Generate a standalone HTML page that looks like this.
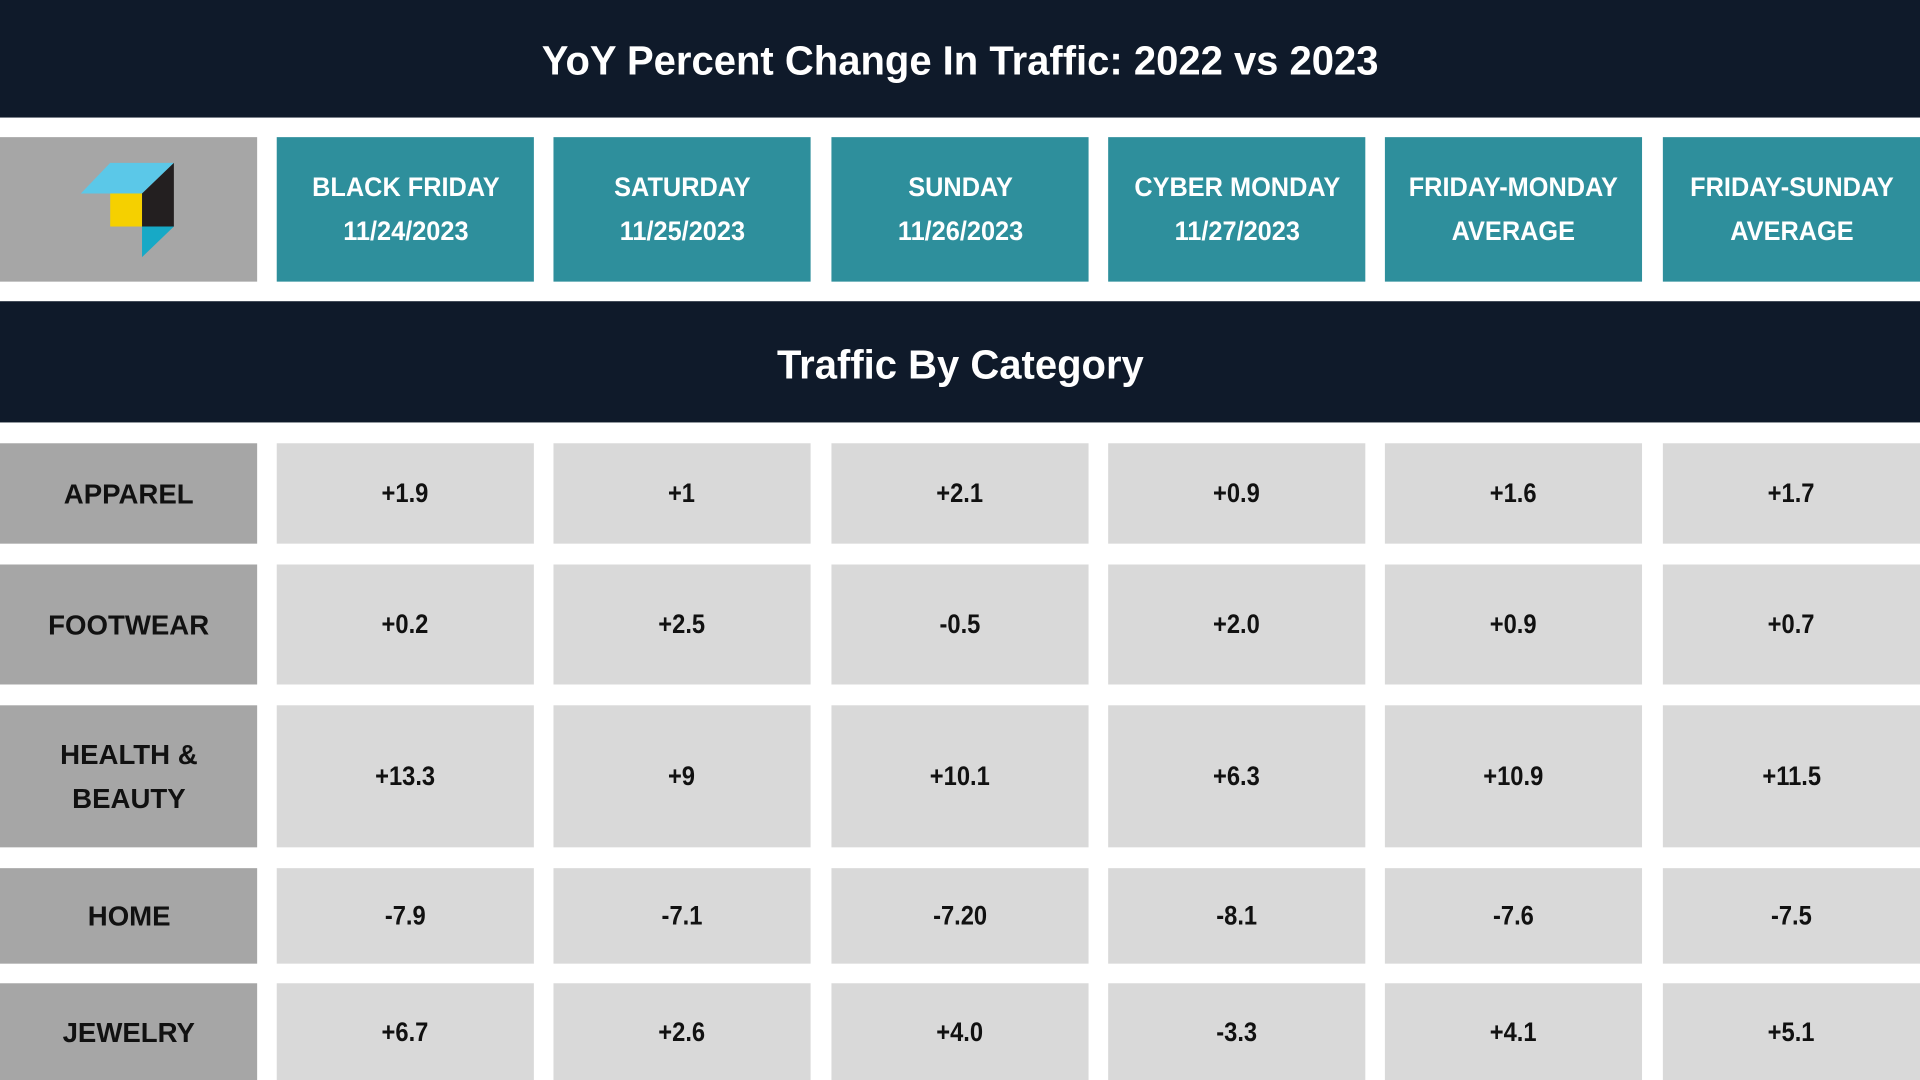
<!DOCTYPE html>
<html><head><meta charset="utf-8"><style>
*{margin:0;padding:0;box-sizing:border-box}
html,body{width:1920px;height:1080px;overflow:hidden;background:#fff}
#s{width:1568px;height:882px;position:relative;transform:scale(1.2244898);transform-origin:0 0;font-family:"Liberation Sans",sans-serif;font-weight:bold;color:#111}
.b{position:absolute;display:flex;align-items:center;justify-content:center;text-align:center}
.dark{background:#0f1a2a;color:#fff;left:0;width:1568px}
.h{background:#2e8f9c;color:#fff;font-size:22px;line-height:36px}
.l{background:#a6a6a6;font-size:23px;line-height:36px}
.d{background:#d9d9d9;font-size:22px}
span.n{display:inline-block;transform:scaleX(0.88)}
.h span.n{transform:scaleX(0.94)}
.l span.n{transform:scaleX(0.98)}
.dark span.n{transform:scaleX(0.99);position:relative;top:2px}
</style></head><body><div id="s">
<div class="b dark" style="top:0;height:96px;font-size:33px"><span class="n">YoY Percent Change In Traffic: 2022 vs 2023</span></div>
<div class="b" style="left:0;top:112px;width:210px;height:118px;background:#a6a6a6">
<svg width="210" height="118" viewBox="0 112 210 118" style="position:absolute;left:0;top:0">
<polygon points="66,158 90,133 142,133 116,158" fill="#5bc8e8"/>
<rect x="90" y="158" width="26" height="27" fill="#f5d000"/>
<polygon points="116,158 142,133 142,185 116,185" fill="#231f20"/>
<polygon points="116,185 142,185 116,210" fill="#17a9c6"/>
</svg></div>
<div class="b h" style="left:226px;top:112px;width:210px;height:118px"><span class="n">BLACK FRIDAY<br>11/24/2023</span></div>
<div class="b h" style="left:452px;top:112px;width:210px;height:118px"><span class="n">SATURDAY<br>11/25/2023</span></div>
<div class="b h" style="left:679px;top:112px;width:210px;height:118px"><span class="n">SUNDAY<br>11/26/2023</span></div>
<div class="b h" style="left:905px;top:112px;width:210px;height:118px"><span class="n">CYBER MONDAY<br>11/27/2023</span></div>
<div class="b h" style="left:1131px;top:112px;width:210px;height:118px"><span class="n">FRIDAY-MONDAY<br>AVERAGE</span></div>
<div class="b h" style="left:1358px;top:112px;width:210px;height:118px"><span class="n">FRIDAY-SUNDAY<br>AVERAGE</span></div>
<div class="b dark" style="top:246px;height:99px;font-size:33px"><span class="n">Traffic By Category</span></div>
<div id="rows"></div>
</div>
<script>
var rows=[[362,82,"APPAREL",["+1.9","+1","+2.1","+0.9","+1.6","+1.7"]],
[461,98,"FOOTWEAR",["+0.2","+2.5","-0.5","+2.0","+0.9","+0.7"]],
[576,116,"HEALTH &amp;<br>BEAUTY",["+13.3","+9","+10.1","+6.3","+10.9","+11.5"]],
[709,78,"HOME",["-7.9","-7.1","-7.20","-8.1","-7.6","-7.5"]],
[803,79,"JEWELRY",["+6.7","+2.6","+4.0","-3.3","+4.1","+5.1"]]];
var xs=[226,452,679,905,1131,1358],h="";
rows.forEach(function(r){
h+='<div class="b l" style="left:0;top:'+r[0]+'px;width:210px;height:'+r[1]+'px"><span class="n">'+r[2]+'</span></div>';
r[3].forEach(function(v,i){h+='<div class="b d" style="left:'+xs[i]+'px;top:'+r[0]+'px;width:210px;height:'+r[1]+'px"><span class="n">'+v+'</span></div>';});
});
document.getElementById("rows").outerHTML=h;
</script>
</body></html>
